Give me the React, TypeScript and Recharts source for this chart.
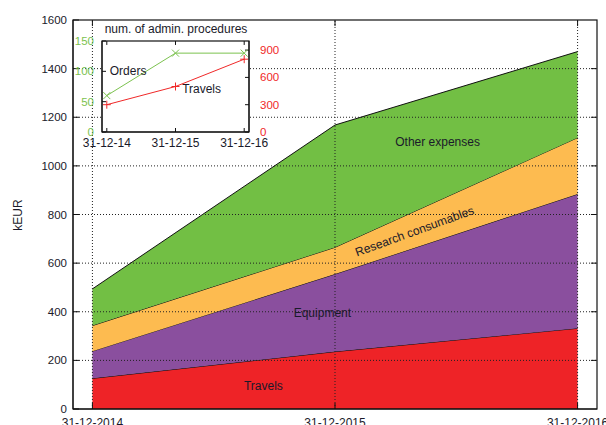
import React from 'react';
import {
  ComposedChart, LineChart, Area, Line, XAxis, YAxis, ReferenceLine, ReferenceDot, CartesianGrid,
} from 'recharts';

// ---- Main chart data (kEUR) ----
const dates = ['31-12-2014', '31-12-2015', '31-12-2016'];
const travels = [126, 236, 332];
const equipment = [112, 319, 552];
const research = [105, 110, 232];
const other = [151, 503, 354];
const yTicks = [0, 200, 400, 600, 800, 1000, 1200, 1400, 1600];

// ---- Inset data ----
const insetDates = ['31-12-14', '31-12-15', '31-12-16'];
const orders = [60, 130, 130];
const travelCount = [300, 500, 800];
const insetLeftTicks = [0, 50, 100, 150];
const insetRightTicks = [0, 300, 600, 900];

const mainData = dates.map((d, i) => ({
  x: i,
  travels: travels[i],
  equipment: equipment[i],
  research: research[i],
  other: other[i],
}));

const insetData = insetDates.map((d, i) => ({ x: i, orders: orders[i], travels: travelCount[i] }));

const X_DOM: [number, number] = [-0.08, 2.08];
const IX_DOM: [number, number] = [-0.07, 2.07];

const FONT = '"Liberation Sans", Arial, Helvetica, sans-serif';
const TXT = '#1a1a2a';
const GREEN_IN = '#7cc24f';
const RED_IN = '#f02828';

const XMark = (props: any) => {
  const { cx, cy, index } = props;
  if (cx == null || cy == null) return <g key={`xm-${index}`} />;
  const s = 3.5;
  return (
    <path key={`xm-${index}`} d={`M${cx - s},${cy - s}L${cx + s},${cy + s}M${cx - s},${cy + s}L${cx + s},${cy - s}`} stroke={GREEN_IN} strokeWidth={1} fill="none" />
  );
};
const PlusMark = (props: any) => {
  const { cx, cy, index } = props;
  if (cx == null || cy == null) return <g key={`pm-${index}`} />;
  const s = 4;
  return (
    <path key={`pm-${index}`} d={`M${cx - s},${cy}L${cx + s},${cy}M${cx},${cy - s}L${cx},${cy + s}`} stroke={RED_IN} strokeWidth={1} fill="none" />
  );
};

const labelStyle = { fill: TXT, fontSize: 12, fontFamily: FONT };

export default function App() {
  return (
    <div style={{ position: 'absolute', left: 0, top: 0, width: 606, height: 425, background: '#fff', fontFamily: FONT }}>
      <div style={{ position: 'absolute', left: 0, top: 0 }}>
        <ComposedChart width={606} height={425} data={mainData} margin={{ top: 20, right: 9, bottom: 0, left: 23 }}>
          <XAxis
            dataKey="x" type="number" domain={X_DOM} ticks={[0, 1, 2]} allowDataOverflow
            tickFormatter={(v: number) => dates[v]} height={16} tickSize={-6} tickMargin={15}
            stroke="#111" tick={{ fill: TXT, fontSize: 12, fontFamily: FONT }} interval={0}
          />
          <YAxis
            type="number" domain={[0, 1600]} ticks={yTicks} allowDataOverflow width={50}
            tickSize={-6} tickMargin={12} stroke="#111" tick={{ fill: TXT, fontSize: 11.5, fontFamily: FONT }} interval={0}
          />
          <Area type="linear" dataKey="travels" stackId="a" fill="#ee2327" fillOpacity={1} stroke="#111" strokeWidth={1} isAnimationActive={false} dot={false} activeDot={false} />
          <Area type="linear" dataKey="equipment" stackId="a" fill="#8a4f9e" fillOpacity={1} stroke="#111" strokeWidth={1} isAnimationActive={false} dot={false} activeDot={false} />
          <Area type="linear" dataKey="research" stackId="a" fill="#fdbb50" fillOpacity={1} stroke="#111" strokeWidth={1} isAnimationActive={false} dot={false} activeDot={false} />
          <Area type="linear" dataKey="other" stackId="a" fill="#72bf44" fillOpacity={1} stroke="#111" strokeWidth={1} isAnimationActive={false} dot={false} activeDot={false} />
          {yTicks.slice(1, -1).map((t) => (
            <ReferenceLine key={`h${t}`} y={t} stroke="#222" strokeWidth={1} strokeDasharray="1 2" />
          ))}
          {[0, 1, 2].map((t) => (
            <ReferenceLine key={`v${t}`} x={t} stroke="#222" strokeWidth={1} strokeDasharray="1 2" />
          ))}
          {yTicks.slice(1, -1).map((t) => (
            <ReferenceLine key={`rt${t}`} segment={[{ x: X_DOM[1] - 0.001, y: t }, { x: X_DOM[1] - 0.025, y: t }]} stroke="#111" strokeWidth={1} />
          ))}
          {[0, 1, 2].map((t) => (
            <ReferenceLine key={`tt${t}`} segment={[{ x: t, y: 1599.9 }, { x: t, y: 1575 }]} stroke="#111" strokeWidth={1} />
          ))}
          <ReferenceDot x={0.705} y={95} r={0} fill="none" stroke="none" label={{ value: 'Travels', position: 'center', ...labelStyle }} />
          <ReferenceDot x={0.948} y={395} r={0} fill="none" stroke="none" label={{ value: 'Equipment', position: 'center', ...labelStyle }} />
          <ReferenceDot x={1.328} y={732} r={0} fill="none" stroke="none" label={{ value: 'Research consumables', position: 'center', angle: -20, ...labelStyle }} />
          <ReferenceDot x={1.423} y={1098} r={0} fill="none" stroke="none" label={{ value: 'Other expenses', position: 'center', ...labelStyle }} />
        </ComposedChart>
      </div>

      {/* plot frame */}
      <svg width={606} height={425} style={{ position: 'absolute', left: 0, top: 0, pointerEvents: 'none' }}>
        <rect x={73} y={20} width={524} height={389} fill="none" stroke="#111" strokeWidth={1.2} />
      </svg>

      <div style={{ position: 'absolute', left: 18, top: 215, transform: 'translate(-50%, -50%) rotate(-90deg)', fontSize: 12, color: TXT, whiteSpace: 'nowrap', lineHeight: '13px' }}>
        kEUR
      </div>

      <div style={{ position: 'absolute', left: 0, top: 0 }}>
        <LineChart width={300} height={150} data={insetData} margin={{ top: 41, right: 11, bottom: 0, left: 72 }}>
          <CartesianGrid horizontal={false} vertical={false} fill="#fff" fillOpacity={1} />
          <XAxis
            dataKey="x" type="number" domain={IX_DOM} ticks={[0, 1, 2]} allowDataOverflow
            tickFormatter={(v: number) => insetDates[v]} height={18} tickSize={-4} tickMargin={10}
            stroke="#111" tick={{ fill: TXT, fontSize: 12, fontFamily: FONT }} interval={0}
          />
          <YAxis
            yAxisId="l" type="number" domain={[0, 150]} ticks={insetLeftTicks} allowDataOverflow width={30}
            tickSize={-4} tickMargin={12} stroke="#111" tick={{ fill: GREEN_IN, fontSize: 11.5, fontFamily: FONT }} interval={0}
          />
          <YAxis
            yAxisId="r" orientation="right" type="number" domain={[0, 1000]} ticks={insetRightTicks} allowDataOverflow width={40}
            tickSize={-4} tickMargin={15} stroke="#111" tick={{ fill: RED_IN, fontSize: 11.5, fontFamily: FONT }} interval={0}
          />
          <Line yAxisId="l" type="linear" dataKey="orders" stroke={GREEN_IN} strokeWidth={1} dot={XMark} activeDot={false} isAnimationActive={false} />
          <Line yAxisId="r" type="linear" dataKey="travels" stroke={RED_IN} strokeWidth={1} dot={PlusMark} activeDot={false} isAnimationActive={false} />
          {[0, 1, 2].map((t) => (
            <ReferenceLine key={`itt${t}`} yAxisId="l" segment={[{ x: t, y: 149.9 }, { x: t, y: 143.5 }]} stroke="#111" strokeWidth={1} />
          ))}
          <ReferenceDot yAxisId="l" x={0.31} y={100.5} r={0} fill="none" stroke="none" label={{ value: 'Orders', position: 'center', ...labelStyle }} />
          <ReferenceDot yAxisId="l" x={1.38} y={71} r={0} fill="none" stroke="none" label={{ value: 'Travels', position: 'center', ...labelStyle }} />
        </LineChart>
      </div>

      {/* inset frame */}
      <svg width={300} height={150} style={{ position: 'absolute', left: 0, top: 0, pointerEvents: 'none' }}>
        <rect x={102} y={41} width={147} height={91} fill="none" stroke="#111" strokeWidth={1.2} />
      </svg>

      <div style={{ position: 'absolute', left: 176, top: 29, transform: 'translate(-50%, -50%)', fontSize: 12, color: TXT, whiteSpace: 'nowrap', lineHeight: '13px' }}>
        num. of admin. procedures
      </div>
    </div>
  );
}
